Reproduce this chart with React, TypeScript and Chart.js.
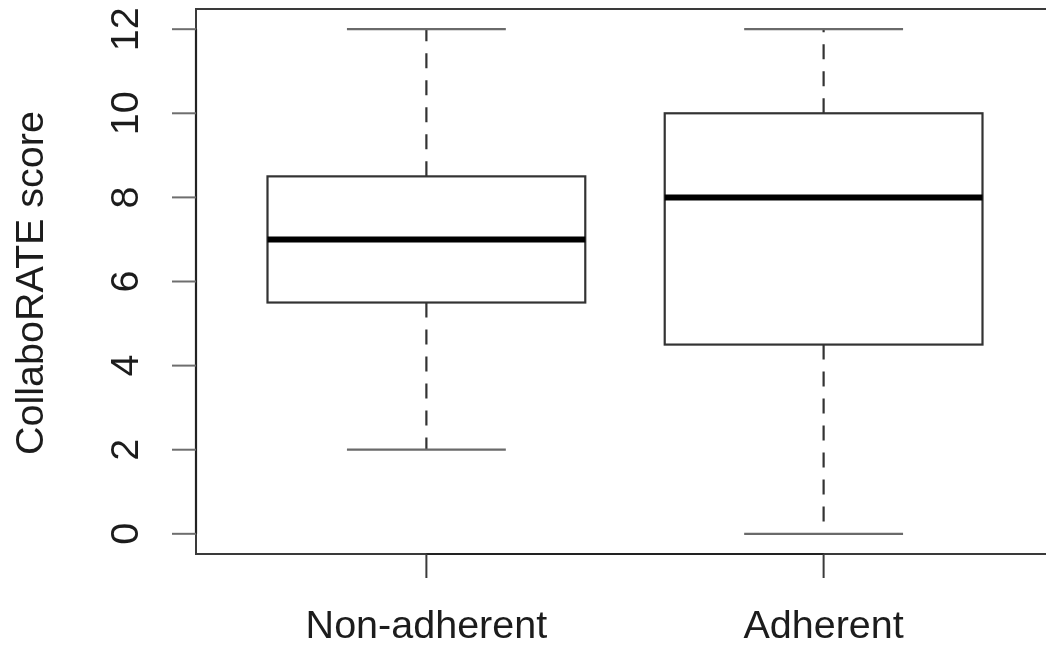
import { useEffect, useRef } from "react";
import { Chart, registerables } from "chart.js";

Chart.register(...registerables);

// Five-number summaries per group
const groups = ["Non-adherent", "Adherent"];
const whiskerLow = [2, 0];
const quartile1 = [5.5, 4.5];
const medians = [7, 8];
const quartile3 = [8.5, 10];
const whiskerHigh = [12, 12];

const yTicks = [0, 2, 4, 6, 8, 10, 12];
const yTitle = "CollaboRATE score";

const FONT = '39.5px "Liberation Sans", Arial, Helvetica, sans-serif';
const BOX_HALF = 0.4;
const CAP_HALF = 0.2;

const boxplotPlugin = {
  id: "rStyleBoxplot",
  beforeDraw(chart: any) {
    const { ctx, width, height } = chart;
    ctx.save();
    ctx.fillStyle = "#ffffff";
    ctx.fillRect(0, 0, width, height);
    ctx.restore();
  },
  afterDatasetsDraw(chart: any) {
    const { ctx, chartArea: a } = chart;
    const xs = chart.scales.x;
    const ys = chart.scales.y;
    ctx.save();
    ctx.lineCap = "butt";

    // plot frame
    ctx.strokeStyle = "#3a3a3a";
    ctx.lineWidth = 2;
    ctx.strokeRect(a.left, a.top, a.right - a.left, a.bottom - a.top);

    // y axis line and ticks
    const y0 = ys.getPixelForValue(yTicks[0]);
    const y1 = ys.getPixelForValue(yTicks[yTicks.length - 1]);
    ctx.strokeStyle = "#222222";
    ctx.lineWidth = 2.2;
    ctx.beginPath();
    ctx.moveTo(a.left, y0);
    ctx.lineTo(a.left, y1);
    ctx.stroke();
    ctx.strokeStyle = "#6e6e6e";
    ctx.lineWidth = 2;
    yTicks.forEach((t) => {
      const py = ys.getPixelForValue(t);
      ctx.beginPath();
      ctx.moveTo(a.left - 24, py);
      ctx.lineTo(a.left, py);
      ctx.stroke();
    });

    // x axis line and ticks
    const xa = xs.getPixelForValue(1);
    const xb = xs.getPixelForValue(groups.length);
    ctx.strokeStyle = "#222222";
    ctx.lineWidth = 2.2;
    ctx.beginPath();
    ctx.moveTo(xa, a.bottom);
    ctx.lineTo(xb, a.bottom);
    ctx.stroke();
    ctx.strokeStyle = "#3a3a3a";
    ctx.lineWidth = 2;
    groups.forEach((_, i) => {
      const px = xs.getPixelForValue(i + 1);
      ctx.beginPath();
      ctx.moveTo(px, a.bottom);
      ctx.lineTo(px, a.bottom + 24);
      ctx.stroke();
    });

    // text
    ctx.fillStyle = "#1c1c1c";
    ctx.font = FONT;
    ctx.textAlign = "center";
    ctx.textBaseline = "alphabetic";
    yTicks.forEach((t) => {
      const py = ys.getPixelForValue(t);
      ctx.save();
      ctx.translate(138, py);
      ctx.rotate(-Math.PI / 2);
      ctx.fillText(String(t), 0, 0);
      ctx.restore();
    });
    ctx.save();
    ctx.translate(43, (a.top + a.bottom) / 2 + 1.5);
    ctx.rotate(-Math.PI / 2);
    ctx.fillText(yTitle, 0, 0);
    ctx.restore();
    groups.forEach((g, i) => {
      ctx.fillText(g, xs.getPixelForValue(i + 1), 638);
    });

    // boxes
    groups.forEach((_, i) => {
      const cx = xs.getPixelForValue(i + 1);
      const bl = xs.getPixelForValue(i + 1 - BOX_HALF);
      const br = xs.getPixelForValue(i + 1 + BOX_HALF);
      const cl = xs.getPixelForValue(i + 1 - CAP_HALF);
      const cr = xs.getPixelForValue(i + 1 + CAP_HALF);
      const pLo = ys.getPixelForValue(whiskerLow[i]);
      const pQ1 = ys.getPixelForValue(quartile1[i]);
      const pMed = ys.getPixelForValue(medians[i]);
      const pQ3 = ys.getPixelForValue(quartile3[i]);
      const pHi = ys.getPixelForValue(whiskerHigh[i]);

      // dashed whiskers, drawn outward from the box
      ctx.strokeStyle = "#333333";
      ctx.lineWidth = 2.2;
      ctx.setLineDash([15, 12]);
      ctx.beginPath();
      ctx.moveTo(cx, pQ3);
      ctx.lineTo(cx, pHi);
      ctx.stroke();
      ctx.beginPath();
      ctx.moveTo(cx, pQ1);
      ctx.lineTo(cx, pLo);
      ctx.stroke();
      ctx.setLineDash([]);

      // whisker caps
      ctx.strokeStyle = "#6a6a6a";
      ctx.lineWidth = 2.2;
      ctx.beginPath();
      ctx.moveTo(cl, pHi);
      ctx.lineTo(cr, pHi);
      ctx.moveTo(cl, pLo);
      ctx.lineTo(cr, pLo);
      ctx.stroke();

      // box
      ctx.strokeStyle = "#333333";
      ctx.lineWidth = 2.2;
      ctx.strokeRect(bl, pQ3, br - bl, pQ1 - pQ3);

      // median
      ctx.strokeStyle = "#000000";
      ctx.lineWidth = 6;
      ctx.beginPath();
      ctx.moveTo(bl, pMed);
      ctx.lineTo(br, pMed);
      ctx.stroke();
    });

    ctx.restore();
  },
};

export default function App() {
  const canvasRef = useRef<HTMLCanvasElement | null>(null);

  useEffect(() => {
    if (!canvasRef.current) return;
    const chart = new Chart(canvasRef.current, {
      type: "scatter",
      data: {
        datasets: [
          {
            label: "median",
            data: groups.map((_, i) => ({ x: i + 1, y: medians[i] })),
            pointRadius: 0,
            showLine: false,
          },
        ],
      },
      options: {
        animation: false,
        responsive: false,
        devicePixelRatio: 1,
        layout: { padding: { left: 196, top: 9, right: 1100 - 1054, bottom: 92 } },
        plugins: { legend: { display: false }, tooltip: { enabled: false } },
        events: [],
        scales: {
          x: { type: "linear", min: 0.42, max: 2.58, display: false },
          y: { type: "linear", min: -0.48, max: 12.48, display: false },
        },
      },
      plugins: [boxplotPlugin],
    });
    return () => chart.destroy();
  }, []);

  return (
    <div
      style={{
        position: "absolute",
        left: 0,
        top: 0,
        width: 1046,
        height: 646,
        overflow: "hidden",
        background: "#ffffff",
      }}
    >
      <canvas ref={canvasRef} width={1100} height={646} style={{ width: 1100, height: 646, display: "block" }} />
    </div>
  );
}
